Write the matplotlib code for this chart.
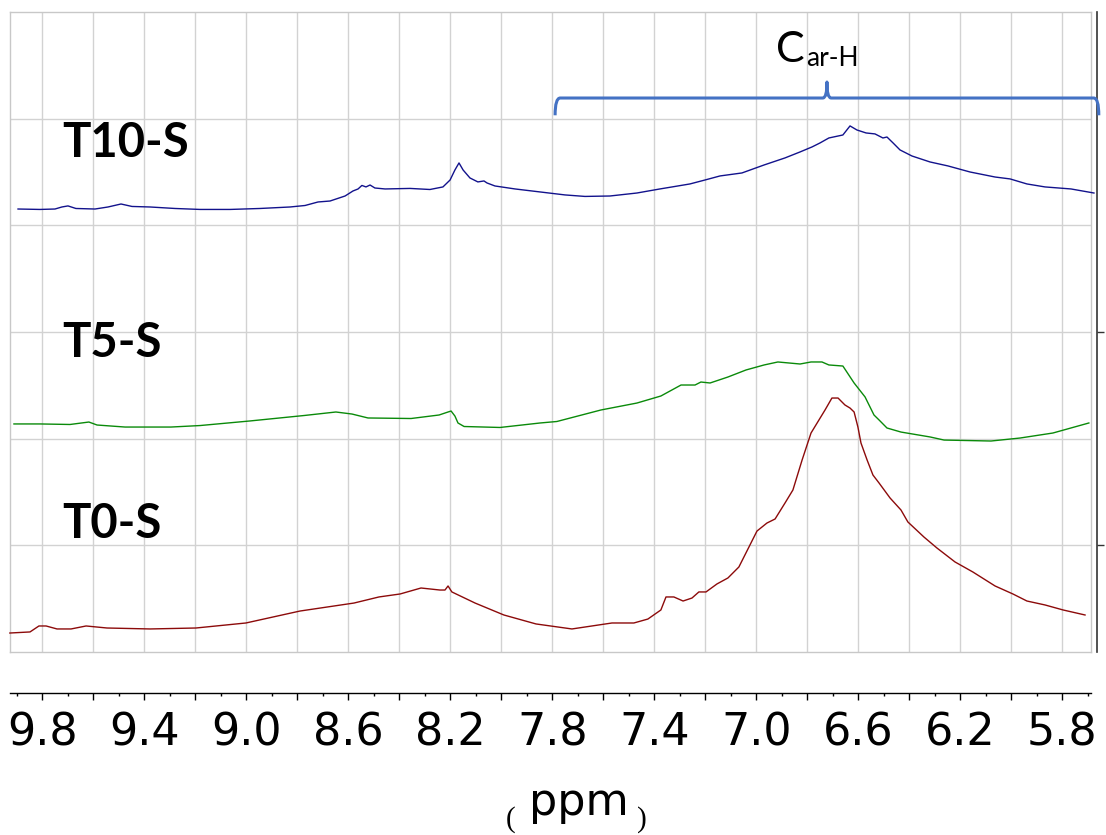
import numpy as np
import matplotlib
matplotlib.use("Agg")
import matplotlib.pyplot as plt
import matplotlib.transforms as mtransforms
from matplotlib.path import Path
from matplotlib.patches import PathPatch
from matplotlib.ticker import FixedLocator, FuncFormatter

# ---- 1H NMR spectra, aromatic region: chemical shift (ppm) and relative intensity ----
t10_ppm = [9.896, 9.810, 9.751, 9.724, 9.700, 9.669, 9.594, 9.543, 9.492, 9.449,
           9.378, 9.280, 9.182, 9.064, 8.947, 8.829, 8.770, 8.719, 8.672, 8.613,
           8.582, 8.562, 8.547, 8.531, 8.515, 8.496, 8.456, 8.358, 8.280, 8.229,
           8.201, 8.182, 8.166, 8.150, 8.123, 8.092, 8.068, 8.056, 8.025, 7.946,
           7.848, 7.750, 7.672, 7.574, 7.468, 7.378, 7.330, 7.260, 7.201, 7.142,
           7.056, 6.969, 6.887, 6.828, 6.781, 6.750, 6.715, 6.660, 6.632, 6.605,
           6.569, 6.534, 6.503, 6.487, 6.463, 6.436, 6.389, 6.318, 6.248, 6.161,
           6.063, 6.004, 5.938, 5.867, 5.765, 5.675]
t10_int = [0.353, 0.349, 0.353, 0.372, 0.382, 0.358, 0.353, 0.372, 0.400, 0.377,
           0.372, 0.358, 0.349, 0.349, 0.358, 0.372, 0.386, 0.419, 0.428, 0.475,
           0.522, 0.541, 0.574, 0.560, 0.578, 0.550, 0.541, 0.546, 0.536, 0.560,
           0.625, 0.719, 0.785, 0.719, 0.644, 0.607, 0.616, 0.597, 0.569, 0.541,
           0.513, 0.485, 0.471, 0.475, 0.503, 0.541, 0.560, 0.588, 0.625, 0.663,
           0.691, 0.766, 0.832, 0.888, 0.935, 0.972, 1.019, 1.047, 1.132, 1.094,
           1.066, 1.057, 1.019, 1.028, 0.972, 0.907, 0.850, 0.794, 0.757, 0.700,
           0.653, 0.635, 0.588, 0.560, 0.541, 0.503]

t5_ppm = [9.912, 9.810, 9.692, 9.618, 9.586, 9.476, 9.296, 9.182, 8.986, 8.774,
          8.649, 8.586, 8.523, 8.354, 8.244, 8.209, 8.197, 8.182, 8.170, 8.146,
          8.005, 7.848, 7.782, 7.609, 7.468, 7.374, 7.295, 7.240, 7.217, 7.181,
          7.111, 7.040, 6.969, 6.915, 6.828, 6.785, 6.742, 6.715, 6.660, 6.616,
          6.573, 6.538, 6.518, 6.487, 6.432, 6.318, 6.263, 6.079, 5.965, 5.836,
          5.695]
t5_int = [0.338, 0.338, 0.333, 0.356, 0.328, 0.309, 0.309, 0.323, 0.366, 0.417,
          0.450, 0.431, 0.394, 0.389, 0.422, 0.450, 0.459, 0.412, 0.347, 0.314,
          0.305, 0.347, 0.361, 0.469, 0.534, 0.600, 0.703, 0.703, 0.731, 0.722,
          0.778, 0.844, 0.891, 0.919, 0.900, 0.919, 0.919, 0.891, 0.881, 0.722,
          0.591, 0.422, 0.375, 0.300, 0.262, 0.216, 0.187, 0.178, 0.206, 0.253,
          0.347]

t0_ppm = [9.928, 9.849, 9.814, 9.786, 9.743, 9.688, 9.629, 9.547, 9.378, 9.198,
          9.002, 8.790, 8.578, 8.480, 8.397, 8.315, 8.241, 8.221, 8.209, 8.194,
          8.103, 7.990, 7.864, 7.723, 7.566, 7.480, 7.425, 7.374, 7.354, 7.323,
          7.287, 7.252, 7.225, 7.197, 7.154, 7.111, 7.068, 6.997, 6.958, 6.926,
          6.887, 6.856, 6.820, 6.785, 6.730, 6.703, 6.679, 6.652, 6.632, 6.616,
          6.601, 6.589, 6.565, 6.542, 6.518, 6.475, 6.432, 6.405, 6.342, 6.291,
          6.220, 6.150, 6.063, 5.993, 5.938, 5.867, 5.796, 5.710]
t0_int = [0.178, 0.188, 0.244, 0.244, 0.216, 0.216, 0.244, 0.225, 0.216, 0.225,
          0.272, 0.384, 0.459, 0.516, 0.544, 0.600, 0.581, 0.581, 0.619, 0.563,
          0.459, 0.347, 0.263, 0.216, 0.272, 0.272, 0.309, 0.394, 0.516, 0.516,
          0.478, 0.506, 0.563, 0.563, 0.638, 0.694, 0.797, 1.134, 1.209, 1.247,
          1.397, 1.519, 1.800, 2.053, 2.269, 2.381, 2.381, 2.316, 2.287, 2.250,
          2.109, 1.959, 1.800, 1.659, 1.584, 1.444, 1.331, 1.219, 1.078, 0.975,
          0.844, 0.750, 0.619, 0.544, 0.478, 0.441, 0.394, 0.347]

sample_names = ["T0-S", "T5-S", "T10-S"]
sample_ppm = [t0_ppm, t5_ppm, t10_ppm]
sample_int = [t0_int, t5_int, t10_int]
sample_offsets = [0.0, 1.8, 3.8]
sample_colors = ["#8c0a0a", "#0a8a0a", "#12128c"]
sample_label_y = [1.07, 2.77, 4.64]

tick_label_ppm = [9.8, 9.4, 9.0, 8.6, 8.2, 7.8, 7.4, 7.0, 6.6, 6.2, 5.8]
car_h_span = (7.789, 5.656)   # aromatic C-H region marked by the brace
car_h_main = "C"
car_h_sub = "ar-H"

# ---- figure ----
fig = plt.figure(figsize=(11.06, 8.35), dpi=100)
ax = fig.add_axes([0.00904, 0.21916, 0.97740, 0.76647])
ax.set_xlim(9.9275, 5.6866)
ax.set_ylim(0, 6)

grid_color = "#d2d2d2"
ax.set_xticks(np.round(np.arange(5.8, 9.81, 0.2), 1))
ax.set_yticks([1, 2, 3, 4, 5])
ax.tick_params(length=0, labelbottom=False, labelleft=False)
ax.grid(True, color=grid_color, lw=1.0)
ax.set_axisbelow(True)
for sp in ax.spines.values():
    sp.set_color("#c8c8c8")
    sp.set_linewidth(1.0)

for name, ppm, inten, off, col, ly in zip(sample_names, sample_ppm, sample_int,
                                          sample_offsets, sample_colors, sample_label_y):
    ax.plot(ppm, np.asarray(inten) + off, color=col, lw=1.0, clip_on=False, zorder=3,
            solid_joinstyle="round")
    ax.text(9.722, ly, name, fontsize=34, fontweight="bold", family="Lato",
            ha="left", va="baseline", color="black")

# bottom chemical-shift axis, detached below the frame
sec = ax.secondary_xaxis(-0.0641)
sec.set_xticks(np.round(np.arange(5.8, 9.81, 0.2), 1))
sec.xaxis.set_minor_locator(FixedLocator(np.round(np.arange(5.7, 9.95, 0.2), 1)))
sec.xaxis.set_major_formatter(FuncFormatter(
    lambda v, p: f"{v:.1f}" if any(abs(v - t) < 1e-6 for t in tick_label_ppm) else ""))
sec.tick_params(which="major", length=5, width=1, direction="out",
                labelsize=32, pad=8)
sec.tick_params(which="minor", length=2.5, width=1, direction="out")
for lbl in sec.get_xticklabels():
    lbl.set_family("DejaVu Sans")
sec.spines["bottom"].set_linewidth(1.0)

# right-hand intensity axis line
secy = ax.secondary_yaxis(1.0055)
secy.set_yticks([1, 3])
secy.tick_params(length=5, width=1, direction="out", labelright=False, color="#333333")
secy.spines["right"].set_color("#333333")
secy.spines["right"].set_linewidth(1.2)

# curly brace over the aromatic region
blend = mtransforms.blended_transform_factory(ax.transData, ax.transAxes)
x0, x1 = car_h_span
xc = 0.5 * (x0 + x1)
yb, drop, rise = 0.8656, 0.027, 0.025
r_end, r_tip = 0.02, 0.016
verts = [(x0, yb - drop), (x0, yb), (x0 - r_end, yb),
         (xc + r_tip, yb), (xc, yb), (xc, yb + rise),
         (xc, yb), (xc - r_tip, yb),
         (x1 + r_end, yb), (x1, yb), (x1, yb - drop)]
codes = [Path.MOVETO, Path.CURVE3, Path.CURVE3,
         Path.LINETO, Path.CURVE3, Path.CURVE3,
         Path.CURVE3, Path.CURVE3,
         Path.LINETO, Path.CURVE3, Path.CURVE3]
ax.add_patch(PathPatch(Path(verts, codes), transform=blend, fill=False,
                       edgecolor="#4472c4", lw=2.2, clip_on=False, zorder=4,
                       capstyle="butt", joinstyle="round"))

c_txt = ax.text(xc + 0.086, 0.922, car_h_main, transform=blend, fontsize=31,
                family="Lato", ha="right", va="baseline")
ax.annotate(car_h_sub, xy=(1, 0), xycoords=c_txt, xytext=(0.5, -1.5),
            textcoords="offset points", fontsize=19, family="Lato",
            ha="left", va="bottom")

# axis title
fig.text(579 / 1106, 1 - 815 / 835, "ppm", fontsize=32, family="DejaVu Sans",
         ha="center", va="baseline")
fig.text(511 / 1106, 1 - 827 / 835, "(", fontsize=21, family="Liberation Serif",
         ha="center", va="baseline")
fig.text(642 / 1106, 1 - 827 / 835, ")", fontsize=21, family="Liberation Serif",
         ha="center", va="baseline")

fig.savefig("out.png", dpi=100)
